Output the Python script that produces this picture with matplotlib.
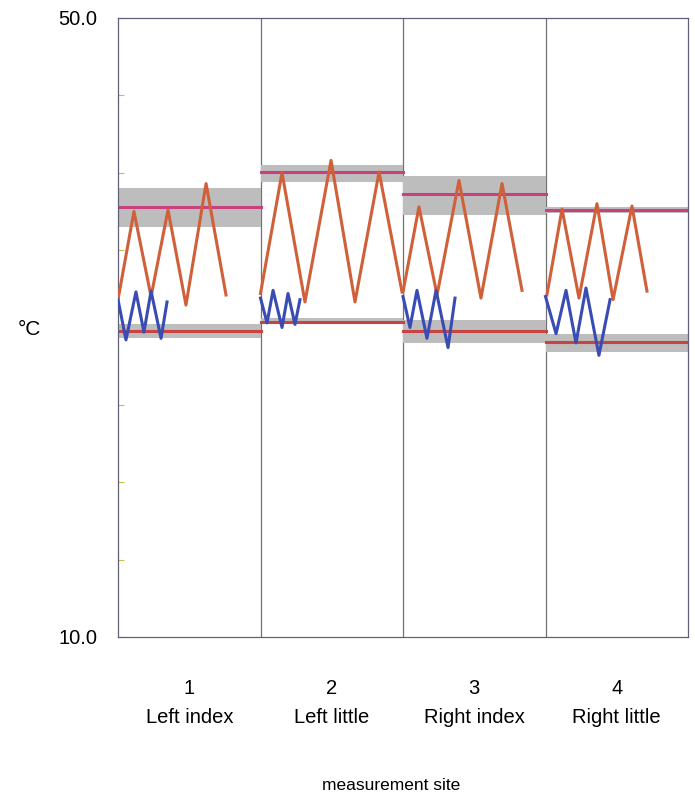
import matplotlib.pyplot as plt

plt.rcParams['font.family'] = ['Liberation Sans', 'DejaVu Sans']

# Data
sites = ["1\nLeft index", "2\nLeft little", "3\nRight index", "4\nRight little"]

# upper reference level (magenta) and its grey band
upper_level = [37.8, 40.07, 38.63, 37.6]
upper_low = [36.5, 39.4, 37.27, 37.4]
upper_high = [39.0, 40.5, 39.8, 37.8]

# lower reference level (red) and its grey band
lower_level = [29.77, 30.37, 29.8, 29.08]
lower_low = [29.3, 30.2, 29.0, 28.4]
lower_high = [30.2, 30.6, 30.5, 29.6]

# orange zigzag: offset within panel (0..1) and temperature
orange_t = [
    [0.0, 0.112, 0.232, 0.351, 0.477, 0.618, 0.758],
    [0.0, 0.151, 0.312, 0.495, 0.663, 0.832, 0.993],
    [0.0, 0.112, 0.239, 0.393, 0.547, 0.695, 0.835],
    [0.01, 0.116, 0.235, 0.361, 0.474, 0.607, 0.712],
]
orange_v = [
    [31.8, 37.5, 32.0, 37.6, 31.45, 39.3, 32.1],
    [32.2, 40.0, 31.65, 40.8, 31.65, 40.05, 32.3],
    [32.3, 37.8, 32.1, 39.5, 31.9, 39.3, 32.4],
    [32.1, 37.65, 31.9, 38.0, 31.8, 37.85, 32.35],
]

# blue zigzag
blue_t = [
    [0.0, 0.056, 0.126, 0.182, 0.232, 0.302, 0.344],
    [0.0, 0.046, 0.088, 0.151, 0.193, 0.242, 0.277],
    [0.0, 0.049, 0.098, 0.168, 0.232, 0.316, 0.365],
    [0.0, 0.074, 0.144, 0.214, 0.284, 0.375, 0.453],
]
blue_v = [
    [31.8, 29.2, 32.3, 29.7, 32.35, 29.3, 31.65],
    [31.9, 30.3, 32.4, 30.0, 32.2, 30.2, 31.8],
    [32.0, 30.0, 32.4, 29.3, 32.4, 28.7, 31.9],
    [32.0, 29.6, 32.4, 29.0, 32.55, 28.2, 31.8],
]

# Plot
fig = plt.figure(figsize=(6.95, 7.99), dpi=100)
ax = fig.add_axes([118 / 695, 1 - 637 / 799, 570 / 695, 619 / 799])

for i in range(4):
    x0 = i + 0.5
    x1 = i + 1.5
    ax.fill_between([x0, x1], upper_low[i], upper_high[i], color="#bdbdbd", lw=0, zorder=1)
    ax.fill_between([x0, x1], lower_low[i], lower_high[i], color="#bdbdbd", lw=0, zorder=1)
    ax.plot([x0, x1], [upper_level[i]] * 2, color="#c8407e", lw=2.2, zorder=2)
    ax.plot([x0, x1], [lower_level[i]] * 2, color="#c84442", lw=2.2, zorder=2)
    ax.plot([x0 + t for t in orange_t[i]], orange_v[i], color="#d0603a", lw=2.2, zorder=3)
    ax.plot([x0 + t for t in blue_t[i]], blue_v[i], color="#3a4cb4", lw=2.2, zorder=4)

for b in [1.5, 2.5, 3.5]:
    ax.axvline(b, color="#707070", lw=0.9, zorder=0)

ax.set_xlim(0.5, 4.5)
ax.set_ylim(10, 50)
ax.set_yticks([10, 15, 20, 25, 30, 35, 40, 45, 50])
ax.set_yticklabels(["10.0", "", "", "", "", "", "", "", "50.0"], fontsize=14.5)
ax.tick_params(axis="y", direction="in", length=4, color="#c8c040", pad=15)
ax.set_xticks([1, 2, 3, 4])
ax.set_xticklabels(sites, fontsize=14.5, linespacing=1.7)
ax.tick_params(axis="x", length=0, pad=30)
for s in ax.spines.values():
    s.set_color("#606078")
    s.set_linewidth(0.9)

fig.text(29 / 695, 1 - 330 / 799, "°C", fontsize=15, ha="center", va="center")
fig.text(391 / 695, 1 - 786 / 799, "measurement site", fontsize=12.5, ha="center", va="center")

plt.savefig("out.png", dpi=100)
